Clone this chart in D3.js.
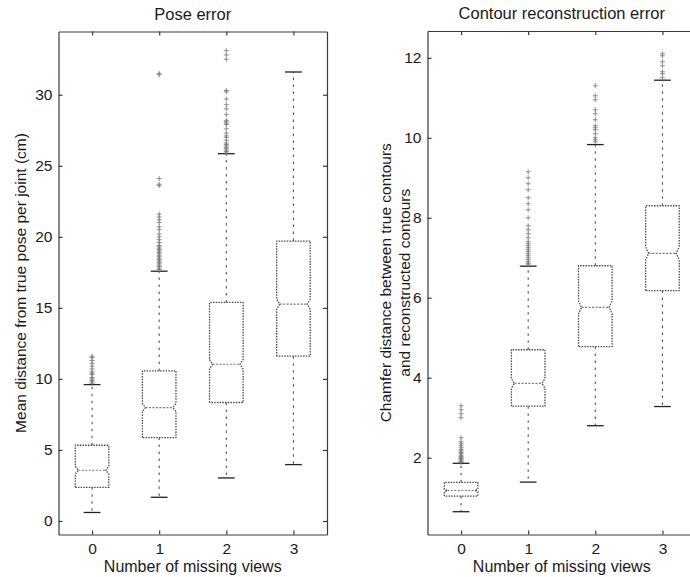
<!DOCTYPE html>
<html>
<head>
<meta charset="utf-8">
<title>Pose and contour error</title>
<style>
  body { margin: 0; background: #fff; }
  svg { display: block; overflow: hidden; }
  text { font-family: "Liberation Sans", Arial, sans-serif; fill: #1a1a1a; }
  .axis path, .axis line { stroke: #3a3a3a; stroke-width: 1.2; }
  .axis text { font-size: 15.5px; fill: #1a1a1a; }
</style>
</head>
<body>
<svg></svg>
<script src="https://d3js.org/d3.v7.min.js"></script>
<script>
const width = 690;
const height = 577;

// shared categories
const groups = [0, 1, 2, 3];

// ---- Pose error (cm) ----
const poseTicks = [0, 5, 10, 15, 20, 25, 30];
const poseLowWhisker = [0.6, 1.67, 3.03, 3.97];
const poseQ1 = [2.37, 5.87, 8.34, 11.6];
const poseMedian = [3.57, 7.98, 11.03, 15.26];
const poseQ3 = [5.33, 10.56, 15.38, 19.7];
const poseHighWhisker = [9.6, 17.58, 25.85, 31.6];
const poseNotchLo = [3.3, 7.7, 10.7, 14.9];
const poseNotchHi = [3.85, 8.27, 11.36, 15.62];
const poseOutliers = [
  [9.7, 9.8, 9.9, 10.0, 10.1, 10.3, 10.4, 10.5, 10.7, 10.9, 11.1, 11.3, 11.5, 11.6],
  [17.7, 17.8, 17.9, 18.0, 18.1, 18.2, 18.3, 18.4, 18.5, 18.6, 18.7, 18.8, 18.9, 19.0, 19.1, 19.2,
   19.3, 19.4, 19.6, 19.8, 20.0, 20.2, 20.5, 20.7, 21.0, 21.2, 21.4, 21.6, 23.6, 23.7, 24.1, 31.4, 31.5],
  [25.9, 26.0, 26.1, 26.2, 26.3, 26.4, 26.5, 26.6, 26.8, 27.0, 27.1, 27.3, 27.6, 27.9, 28.0, 28.1,
   28.2, 28.6, 29.0, 29.3, 29.7, 30.2, 30.3, 32.5, 32.8, 33.1],
  []
];

// ---- Contour reconstruction error (chamfer distance) ----
const contourTicks = [2, 4, 6, 8, 10, 12];
const contourLowWhisker = [0.65, 1.39, 2.8, 3.28];
const contourQ1 = [1.04, 3.29, 4.78, 6.18];
const contourMedian = [1.18, 3.86, 5.76, 7.11];
const contourQ3 = [1.385, 4.7, 6.8, 8.3];
const contourHighWhisker = [1.86, 6.79, 9.83, 11.44];
const contourNotchLo = [1.15, 3.74, 5.6, 6.95];
const contourNotchHi = [1.21, 3.98, 5.92, 7.27];
const contourOutliers = [
  [1.88, 1.9, 1.92, 1.95, 1.98, 2.0, 2.03, 2.06, 2.1, 2.13, 2.17, 2.2, 2.25, 2.3, 2.35, 2.4, 2.5,
   3.0, 3.1, 3.2, 3.3],
  [6.82, 6.86, 6.9, 6.95, 7.0, 7.05, 7.1, 7.15, 7.2, 7.25, 7.3, 7.35, 7.4, 7.5, 7.6, 7.7, 7.8,
   8.0, 8.2, 8.35, 8.5, 8.7, 8.85, 9.0, 9.15],
  [9.9, 9.95, 10.0, 10.1, 10.2, 10.25, 10.3, 10.45, 10.6, 10.7, 10.95, 11.05, 11.3],
  [11.5, 11.6, 11.65, 11.8, 11.9, 12.05, 12.1]
];

const svg = d3.select('svg').attr('width', width).attr('height', height);

function drawPanel(p) {
  const x = d3.scaleLinear().domain([-0.5, 3.5]).range([p.left, p.right]);
  const y = d3.scaleLinear().domain(p.yDomain).range([p.bottom, p.top]);
  const g = svg.append('g');

  // frame + inward ticks
  g.append('g').attr('class', 'axis')
    .attr('transform', `translate(0,${p.bottom})`)
    .call(d3.axisBottom(x).tickValues(groups).tickFormat(d3.format('d')).tickSizeInner(-4).tickSizeOuter(0).tickPadding(8));
  g.append('g').attr('class', 'axis')
    .attr('transform', `translate(0,${p.top})`)
    .call(d3.axisTop(x).tickValues(groups).tickFormat('').tickSizeInner(-4).tickSizeOuter(0));
  g.append('g').attr('class', 'axis')
    .attr('transform', `translate(${p.left},0)`)
    .call(d3.axisLeft(y).tickValues(p.ticks).tickSizeInner(-4).tickSizeOuter(0).tickPadding(6));
  g.append('g').attr('class', 'axis')
    .attr('transform', `translate(${p.right},0)`)
    .call(d3.axisRight(y).tickValues(p.ticks).tickFormat('').tickSizeInner(-4).tickSizeOuter(0));

  const half = 0.25, cap = 0.125, ind = 0.045;
  const line = d3.line().x(d => x(d[0])).y(d => y(d[1]));

  groups.forEach((k, i) => {
    // whiskers
    g.append('path')
      .attr('d', line([[k, p.q3[i]], [k, p.hi[i]]]))
      .attr('stroke', '#555').attr('stroke-width', 1.1).attr('stroke-dasharray', '2.5,4.5').attr('fill', 'none');
    g.append('path')
      .attr('d', line([[k, p.q1[i]], [k, p.lo[i]]]))
      .attr('stroke', '#555').attr('stroke-width', 1.1).attr('stroke-dasharray', '2.5,4.5').attr('fill', 'none');
    // caps
    [p.lo[i], p.hi[i]].forEach(v => {
      g.append('path')
        .attr('d', line([[k - cap, v], [k + cap, v]]))
        .attr('stroke', '#222').attr('stroke-width', 1.3).attr('fill', 'none');
    });
    // notched box
    const box = [
      [k - half, p.q1[i]], [k - half, p.nlo[i]], [k - half + ind, p.med[i]], [k - half, p.nhi[i]],
      [k - half, p.q3[i]], [k + half, p.q3[i]], [k + half, p.nhi[i]], [k + half - ind, p.med[i]],
      [k + half, p.nlo[i]], [k + half, p.q1[i]], [k - half, p.q1[i]]
    ];
    g.append('path')
      .attr('d', line(box))
      .attr('stroke', '#4a4a4a').attr('stroke-width', 1.3).attr('stroke-dasharray', '1.5,1.2').attr('fill', 'none');
    // median
    g.append('path')
      .attr('d', line([[k - half + ind, p.med[i]], [k + half - ind, p.med[i]]]))
      .attr('stroke', '#777').attr('stroke-width', 1.1).attr('stroke-dasharray', '2,1.5').attr('fill', 'none');
    // outliers
    g.selectAll(null).data(p.out[i]).enter().append('path')
      .attr('transform', d => `translate(${x(k)},${y(d)})`)
      .attr('d', 'M-2.5,0H2.5M0,-2.5V2.5')
      .attr('stroke', '#777').attr('stroke-width', 0.8).attr('fill', 'none');
  });

  // title
  g.append('text')
    .attr('x', (p.left + p.right) / 2).attr('y', p.top - 12)
    .attr('text-anchor', 'middle').style('font-size', '16.5px')
    .text(p.title);
  // x label
  g.append('text')
    .attr('x', (p.left + p.right) / 2).attr('y', 572)
    .attr('text-anchor', 'middle').style('font-size', '16px')
    .text('Number of missing views');
  // y label (one or two lines)
  const cy = (p.top + p.bottom) / 2;
  p.ylabel.forEach((t, j) => {
    g.append('text')
      .attr('transform', `translate(${p.ylabelX[j]},${cy}) rotate(-90)`)
      .attr('text-anchor', 'middle').style('font-size', '15.5px')
      .text(t);
  });
}

drawPanel({
  title: 'Pose error',
  ylabel: ['Mean distance from true pose per joint (cm)'],
  ylabelX: [26],
  left: 58.5, right: 327, top: 31.5, bottom: 534.5,
  yDomain: [-0.95, 34.45],
  ticks: poseTicks,
  lo: poseLowWhisker, q1: poseQ1, med: poseMedian, q3: poseQ3, hi: poseHighWhisker,
  nlo: poseNotchLo, nhi: poseNotchHi, out: poseOutliers
});

drawPanel({
  title: 'Contour reconstruction error',
  ylabel: ['Chamfer distance between true contours', 'and reconstructed contours'],
  ylabelX: [391, 410],
  left: 427.5, right: 696, top: 31, bottom: 534.5,
  yDomain: [0.08, 12.67],
  ticks: contourTicks,
  lo: contourLowWhisker, q1: contourQ1, med: contourMedian, q3: contourQ3, hi: contourHighWhisker,
  nlo: contourNotchLo, nhi: contourNotchHi, out: contourOutliers
});
</script>
</body>
</html>
